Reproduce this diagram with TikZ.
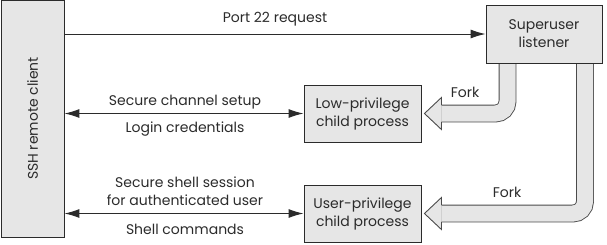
\documentclass[tikz,border=0pt]{standalone}
\usepackage{fontspec}
\setmainfont{Poppins}
\usetikzlibrary{arrows.meta}
\definecolor{boxfill}{HTML}{E6E6E6}
\definecolor{ink}{HTML}{2B2B2B}
\tikzset{
    lab/.style={
        font=\fontsize{14}{18}\selectfont, text=ink
    },
    box/.style={
        lab, draw=ink, fill=boxfill, line width=0.9pt, align=center, inner sep=0pt
    },
    msg/.style={
        draw=ink, line width=1pt, -{Latex[length=15pt,width=9pt]}
    },
    twoway/.style={
        msg, {Latex[length=15pt,width=9pt]}-{Latex[length=15pt,width=9pt]}
    },
    forkshaft/.style={
        draw=ink!85, line width=0.9pt, double=boxfill, double distance=16pt,
        rounded corners=12pt
    },
    forkedge/.style={
        draw=ink!85, line width=0.9pt, line join=miter
    }
}

\begin{document}
\begin{tikzpicture}[x=1pt,y=-1pt,line cap=butt]

\useasboundingbox (0,0) rectangle (607,244);

% --- boxes ---
    \node[box, minimum width=63, minimum height=237] (ssh) at (32.5,118.5) {};
    \node[lab, rotate=90] (sshname) at (ssh.center) {SSH remote client};
    \node[box, minimum width=116, minimum height=58] (super) at (544,34) {Superuser\\listener};
    \node[box, minimum width=117, minimum height=57] (low) at (362.5,113.5) {Low-privilege\\child process};
    \node[box, minimum width=117, minimum height=57] (user) at (362.5,213.5) {User-privilege\\child process};

% --- messages ---
    \draw[msg] (ssh.east |- super.west) -- (super.west);
    \draw[twoway] (ssh.east |- low.west) -- (low.west);
    \draw[twoway] (ssh.east |- user.west) -- (user.west);

    \node[lab] (portreq) at (275,19) {Port 22 request};
    \node[lab] (chansetup) at (185,102) {Secure channel setup};
    \node[lab] (login) at (185,129) {Login credentials};
    \node[lab, align=center] (shellsess) at (185,191) {Secure shell session\\for authenticated user};
    \node[lab] (shellcmd) at (185,229) {Shell commands};

% --- fork arrows (shaft, then head) ---
    \draw[forkshaft] ([xshift=-36.5pt,yshift=-0.6pt]super.south) |- ([xshift=20pt]low.east);
    \fill[boxfill] ([shift={(20,-16)}]low.east) -- ([shift={(3,0)}]low.east) -- ([shift={(20,16)}]low.east) -- cycle;
    \draw[forkedge] ([shift={(20,-8.4)}]low.east) -- ([shift={(20,-16)}]low.east) -- ([shift={(3,0)}]low.east)
        -- ([shift={(20,16)}]low.east) -- ([shift={(20,8.4)}]low.east);

    \draw[forkshaft] ([xshift=41pt,yshift=-0.6pt]super.south) |- ([xshift=20pt]user.east);
    \fill[boxfill] ([shift={(20,-16)}]user.east) -- ([shift={(3,0)}]user.east) -- ([shift={(20,16)}]user.east) -- cycle;
    \draw[forkedge] ([shift={(20,-8.4)}]user.east) -- ([shift={(20,-16)}]user.east) -- ([shift={(3,0)}]user.east)
        -- ([shift={(20,16)}]user.east) -- ([shift={(20,8.4)}]user.east);

    \node[lab] (fork1) at (465,92) {Fork};
    \node[lab] (fork2) at (507,192) {Fork};

\end{tikzpicture}
\end{document}
